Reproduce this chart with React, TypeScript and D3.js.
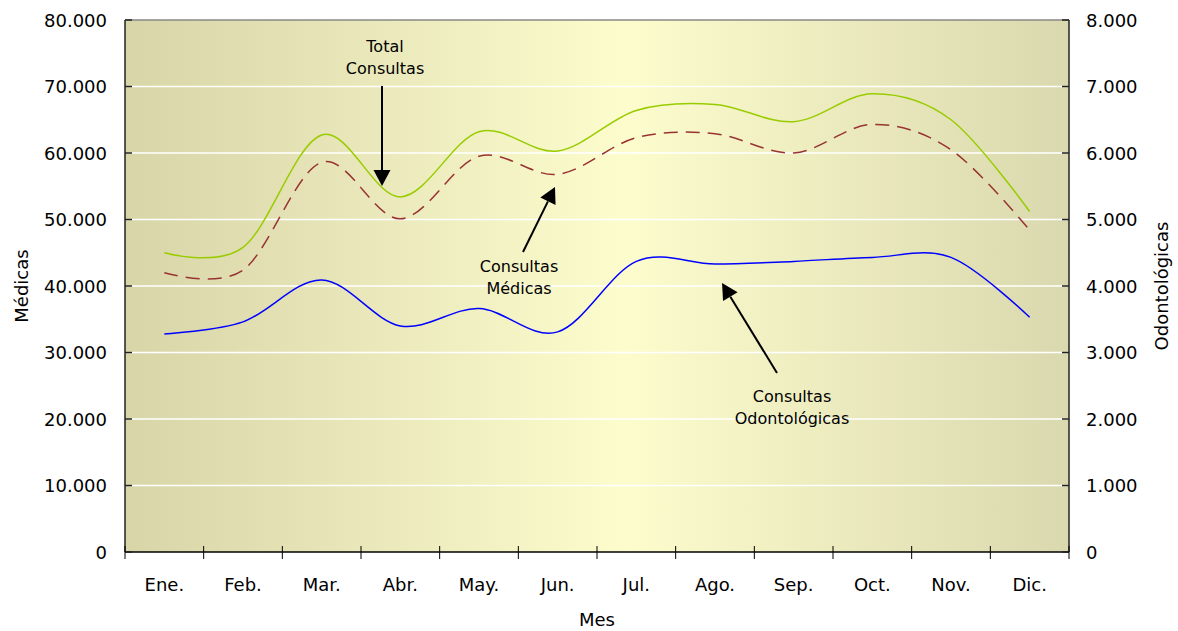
import React from 'react'
import * as d3 from 'd3'

const months = ['Ene.', 'Feb.', 'Mar.', 'Abr.', 'May.', 'Jun.', 'Jul.', 'Ago.', 'Sep.', 'Oct.', 'Nov.', 'Dic.']
const totalConsultas = [45000, 45800, 62700, 53400, 63200, 60300, 66400, 67300, 64700, 68900, 65000, 51200]
const consultasMedicas = [42000, 42400, 58600, 50100, 59500, 56800, 62300, 62900, 60000, 64300, 60500, 48400]
const consultasOdonto = [3280, 3460, 4090, 3400, 3660, 3310, 4370, 4330, 4370, 4430, 4430, 3530]
const leftTicks = [0, 10000, 20000, 30000, 40000, 50000, 60000, 70000, 80000]
const rightTicks = [0, 1000, 2000, 3000, 4000, 5000, 6000, 7000, 8000]

const W = 1178, H = 631
const padding = { top: 20, right: 109, bottom: 79, left: 125 }
const font = '"DejaVu Sans", Verdana, sans-serif'

const esLocale = d3.formatLocale({ decimal: ',', thousands: '.', grouping: [3], currency: ['', ''] })
const fmt = esLocale.format(',')

// flecha: linea + punta triangular rellena
function Arrow({ x1, y1, x2, y2 }: { x1: number, y1: number, x2: number, y2: number }) {
  const len = Math.hypot(x2 - x1, y2 - y1)
  const ux = (x2 - x1) / len, uy = (y2 - y1) / len
  const head = 16, half = 8.5
  const bx = x2 - ux * head, by = y2 - uy * head
  const pts = [[x2, y2], [bx - uy * half, by + ux * half], [bx + uy * half, by - ux * half]]
  return (
    <g>
      <line x1={x1} y1={y1} x2={bx} y2={by} stroke="#000" strokeWidth={2} />
      <polygon points={pts.map(p => p.join(',')).join(' ')} fill="#000" />
    </g>
  )
}

export default function App() {
  const x0 = padding.left, x1 = W - padding.right
  const y0 = H - padding.bottom, y1 = padding.top

  const xScale = d3.scaleBand<string>().domain(months).range([x0, x1])
  const yLeft = d3.scaleLinear().domain([0, 80000]).range([y0, y1])
  const yRight = d3.scaleLinear().domain([0, 8000]).range([y0, y1])
  const cx = (m: string) => (xScale(m) as number) + xScale.bandwidth() / 2

  const curve = d3.curveCardinal.tension(0)
  const lineLeft = d3.line<number>().x((d, i) => cx(months[i])).y(d => yLeft(d)).curve(curve)
  const lineRight = d3.line<number>().x((d, i) => cx(months[i])).y(d => yRight(d)).curve(curve)

  // limites de las categorias para las marcas del eje X
  const bounds = months.map(m => xScale(m) as number).concat([x1])

  return (
    <svg width={W} height={H} style={{ position: 'absolute', left: 0, top: 0, background: '#fff' }} fontFamily={font}>
      <defs>
        <linearGradient id="bg" x1="0" x2="1" y1="0" y2="0">
          <stop offset="0" stopColor="#d8d5a8" />
          <stop offset="0.53" stopColor="#fcfccd" />
          <stop offset="1" stopColor="#dad8ae" />
        </linearGradient>
      </defs>

      <rect x={x0} y={y1} width={x1 - x0} height={y0 - y1} fill="url(#bg)" />

      {leftTicks.slice(1, -1).map(t => (
        <line key={t} x1={x0} x2={x1} y1={yLeft(t)} y2={yLeft(t)} stroke="#fff" strokeWidth={1.5} />
      ))}

      <line x1={x0} x2={x1} y1={y1} y2={y1} stroke="#888" strokeWidth={1.5} />
      <line x1={x0} x2={x0} y1={y1} y2={y0} stroke="#222" strokeWidth={1.5} />
      <line x1={x1} x2={x1} y1={y1} y2={y0} stroke="#222" strokeWidth={1.5} />
      <line x1={x0} x2={x1} y1={y0} y2={y0} stroke="#000" strokeWidth={1.5} />

      {leftTicks.map(t => (
        <g key={'l' + t}>
          <line x1={x0} x2={x0 + 7} y1={yLeft(t)} y2={yLeft(t)} stroke="#222" strokeWidth={1.5} />
          <text x={107} y={yLeft(t) + 6.5} textAnchor="end" fontSize={18} fill="#000">{t === 0 ? '0' : fmt(t)}</text>
        </g>
      ))}
      {rightTicks.map(t => (
        <g key={'r' + t}>
          <line x1={x1 - 7} x2={x1} y1={yRight(t)} y2={yRight(t)} stroke="#222" strokeWidth={1.5} />
          <text x={1086} y={yRight(t) + 6.5} textAnchor="start" fontSize={18} fill="#000">{t === 0 ? '0' : fmt(t)}</text>
        </g>
      ))}
      {bounds.map((b, i) => (
        <line key={'b' + i} x1={b} x2={b} y1={y0 - 6} y2={y0 + 7} stroke="#000" strokeWidth={1} />
      ))}
      {months.map(m => (
        <text key={m} x={cx(m)} y={591} textAnchor="middle" fontSize={18} fill="#000">{m}</text>
      ))}

      <text x={(x0 + x1) / 2} y={626} textAnchor="middle" fontSize={18}>Mes</text>
      <text transform={`translate(28,${(y0 + y1) / 2}) rotate(-90)`} textAnchor="middle" fontSize={18}>Médicas</text>
      <text transform={`translate(1168,${(y0 + y1) / 2}) rotate(-90)`} textAnchor="middle" fontSize={18}>Odontológicas</text>

      <path d={lineLeft(totalConsultas) as string} fill="none" stroke="#99cc00" strokeWidth={1.5} />
      <path d={lineLeft(consultasMedicas) as string} fill="none" stroke="#993333" strokeWidth={1.5} strokeDasharray="14,8" />
      <path d={lineRight(consultasOdonto) as string} fill="none" stroke="#0000ff" strokeWidth={1.5} />

      <g fontSize={16} textAnchor="middle" fill="#000">
        <text x={385} y={52}>Total</text>
        <text x={385} y={74}>Consultas</text>
        <text x={519} y={272}>Consultas</text>
        <text x={519} y={294}>Médicas</text>
        <text x={792} y={402}>Consultas</text>
        <text x={792} y={424}>Odontológicas</text>
      </g>
      <Arrow x1={382} y1={86} x2={382} y2={186} />
      <Arrow x1={523} y1={252} x2={555} y2={187} />
      <Arrow x1={777} y1={373} x2={722} y2={283} />
    </svg>
  )
}
